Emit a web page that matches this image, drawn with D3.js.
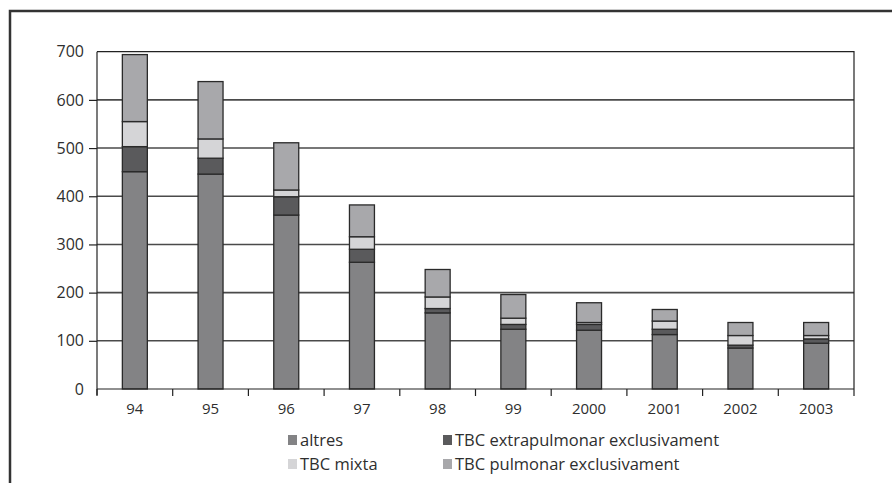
<!DOCTYPE html>
<html>
<head>
<meta charset="utf-8">
<script src="https://cdn.jsdelivr.net/npm/d3@7"></script>
<style>
  body { margin: 0; background: #fff; }
  text { font-family: "Open Sans", "Noto Sans", sans-serif; fill: #2e2e2e; }
</style>
</head>
<body>
<div id="chart"></div>
<script>
// anys i series (casos)
const years = ['94', '95', '96', '97', '98', '99', '2000', '2001', '2002', '2003'];
const altres = [451, 446, 361, 263, 158, 124, 122, 113, 85, 95];
const extrapulmonar = [52, 33, 38, 27, 9, 10, 12, 11, 6, 9];
const mixta = [52, 40, 14, 26, 24, 13, 4, 17, 20, 7];
const pulmonar = [139, 119, 98, 66, 57, 49, 41, 24, 27, 27];
const yTicks = [0, 100, 200, 300, 400, 500, 600, 700];

const seriesNames = ['altres', 'TBC extrapulmonar exclusivament', 'TBC mixta', 'TBC pulmonar exclusivament'];
const seriesKeys = ['altres', 'extra', 'mixta', 'pulm'];
const colors = { altres: '#838385', extra: '#5a5a5c', mixta: '#d5d5d7', pulm: '#a8a8ab' };

const rows = years.map((y, i) => ({
  year: y, altres: altres[i], extra: extrapulmonar[i], mixta: mixta[i], pulm: pulmonar[i]
}));

const width = 892, height = 483;
const m = { left: 97, right: 854, top: 51.7, bottom: 389 };

const svg = d3.select('#chart').append('svg')
  .attr('width', width)
  .attr('height', height);

// marc exterior
svg.append('path')
  .attr('d', `M10,${height + 5} L10,11 L${width + 5},11`)
  .attr('fill', 'none')
  .attr('stroke', '#333')
  .attr('stroke-width', 2.5);

const x = d3.scaleBand()
  .domain(years)
  .range([m.left, m.right])
  .paddingInner(0.67)
  .paddingOuter(0.335);

const y = d3.scaleLinear()
  .domain([0, 700])
  .range([m.bottom, m.top]);

// línies de la graella
svg.append('g')
  .selectAll('line')
  .data(yTicks.filter(d => d > 0 && d < 700))
  .enter().append('line')
  .attr('x1', m.left).attr('x2', m.right)
  .attr('y1', d => y(d)).attr('y2', d => y(d))
  .attr('stroke', '#4a4a4a')
  .attr('stroke-width', 1.6);

// vora superior i dreta
svg.append('path')
  .attr('d', `M${m.left},${y(700)} L${m.right},${y(700)} L${m.right},${m.bottom}`)
  .attr('fill', 'none')
  .attr('stroke', '#222')
  .attr('stroke-width', 1.2);

// barres apilades
const stack = d3.stack().keys(seriesKeys)(rows);

svg.append('g')
  .selectAll('g')
  .data(stack)
  .enter().append('g')
  .attr('fill', d => colors[d.key])
  .selectAll('rect')
  .data(d => d)
  .enter().append('rect')
  .attr('x', d => x(d.data.year))
  .attr('y', d => y(d[1]))
  .attr('width', x.bandwidth())
  .attr('height', d => y(d[0]) - y(d[1]))
  .attr('stroke', '#2a2a2a')
  .attr('stroke-width', 1.3);

// eix y
const yAxis = svg.append('g')
  .attr('transform', `translate(${m.left},0)`)
  .call(d3.axisLeft(y).tickValues(yTicks).tickSize(8).tickPadding(5));
yAxis.select('.domain').attr('stroke', '#222').attr('stroke-width', 1.2)
  .attr('d', `M0,${m.bottom + 6}V${m.top}`);
yAxis.selectAll('.tick line').attr('stroke', '#222').attr('stroke-width', 1.2)
  .filter(d => d === 0 || d === 700).remove();
yAxis.selectAll('.tick text')
  .style('font-size', '16px')
  .style('font-family', '"Open Sans", "Noto Sans", sans-serif')
  .attr('fill', '#2e2e2e');

// eix x
const xAxis = svg.append('g')
  .attr('transform', `translate(0,${m.bottom})`)
  .call(d3.axisBottom(x).tickSize(0).tickPadding(14));
xAxis.select('.domain').attr('stroke', '#222').attr('stroke-width', 1.2)
  .attr('d', `M${m.left},0H${m.right}`);
xAxis.selectAll('.tick text')
  .style('font-size', '15px')
  .style('font-family', '"Open Sans", "Noto Sans", sans-serif')
  .attr('fill', '#2e2e2e');

// marques entre categories
svg.append('g')
  .selectAll('line')
  .data(d3.range(years.length + 1))
  .enter().append('line')
  .attr('x1', i => m.left + i * (m.right - m.left) / years.length)
  .attr('x2', i => m.left + i * (m.right - m.left) / years.length)
  .attr('y1', m.bottom).attr('y2', m.bottom + 7)
  .attr('stroke', '#222')
  .attr('stroke-width', 1.2);

// llegenda
const legendPos = [[288, 440], [443, 440], [288, 464], [443, 464]];
const legend = svg.append('g')
  .selectAll('g')
  .data(seriesKeys)
  .enter().append('g')
  .attr('transform', (d, i) => `translate(${legendPos[i][0]},${legendPos[i][1]})`);
legend.append('rect')
  .attr('x', 0).attr('y', -5)
  .attr('width', 9).attr('height', 10)
  .attr('fill', d => colors[d]);
legend.append('text')
  .attr('x', 12).attr('y', 0)
  .attr('dy', '0.35em')
  .style('font-size', '16.5px')
  .text((d, i) => seriesNames[i]);
</script>
</body>
</html>
